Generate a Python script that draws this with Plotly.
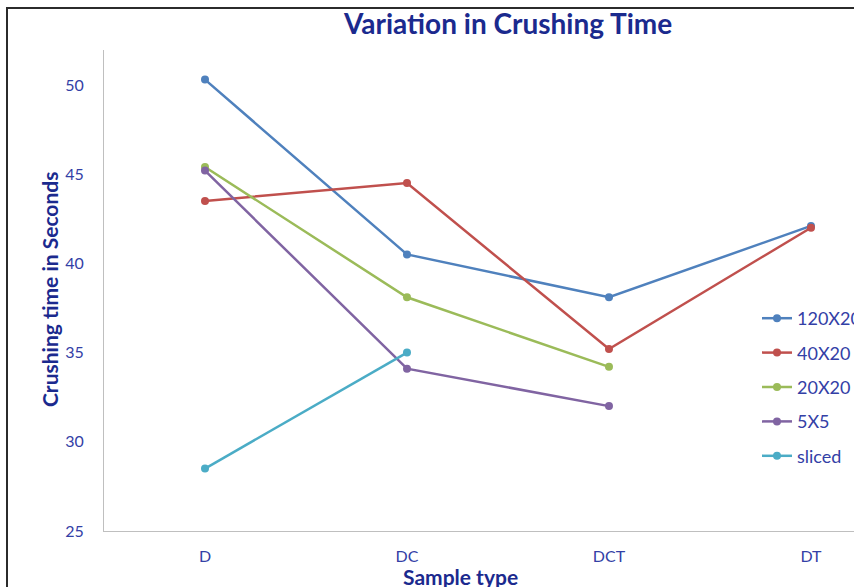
import plotly.graph_objects as go

categories = ["D", "DC", "DCT", "DT"]
s_120x20 = [50.3, 40.5, 38.1, 42.1]
s_40x20 = [43.5, 44.5, 35.2, 42.0]
s_20x20 = [45.4, 38.1, 34.2, None]
s_5x5 = [45.2, 34.1, 32.0, None]
s_sliced = [28.5, 35.0, None, None]

series = [
    ("120X20", s_120x20, "#4F81BD"),
    ("40X20", s_40x20, "#C0504D"),
    ("20X20", s_20x20, "#9BBB59"),
    ("5X5", s_5x5, "#8064A2"),
    ("sliced", s_sliced, "#4BACC6"),
]

W, H = 854, 587
L, R, T, B = 104, 0, 50, 56
pw, ph = W - L - R, H - T - B

def px(x):
    return (x - L) / pw

def py(y):
    return (H - B - y) / ph

fig = go.Figure()
for i, (name, vals, col) in enumerate(series):
    fig.add_trace(go.Scatter(
        x=categories, y=vals, name=name, mode="lines+markers",
        line=dict(color=col, width=2.5),
        marker=dict(color=col, size=8),
        legendgroup=f"g{i}",
    ))

tick_color = "#3340A6"
title_color = "#1B2A8E"
font_family = "Lato, 'Open Sans', sans-serif"

fig.update_layout(
    width=W, height=H,
    margin=dict(l=L, r=R, t=T, b=B, autoexpand=False),
    paper_bgcolor="white", plot_bgcolor="white",
    font=dict(family=font_family, color=tick_color, size=16),
    showlegend=True,
    legend=dict(
        x=px(757), y=py(300), xanchor="left", yanchor="top",
        font=dict(size=18, color=tick_color),
        traceorder="grouped", tracegroupgap=8,
        bgcolor="rgba(0,0,0,0)",
    ),
    xaxis=dict(
        type="category", range=[-0.5, 3.213],
        showgrid=False, showline=True, linecolor="#BFBFBF", linewidth=1,
        ticks="", ticklabelstandoff=11,
        tickfont=dict(size=16, color=tick_color),
        zeroline=False,
    ),
    yaxis=dict(
        range=[25, 51.96], tick0=25, dtick=5,
        showgrid=False, showline=True, linecolor="#BFBFBF", linewidth=1,
        ticks="", ticklabelstandoff=16,
        tickfont=dict(size=16, color=tick_color),
        zeroline=False,
    ),
    annotations=[
        dict(text="<b>Variation in Crushing Time</b>", xref="paper", yref="paper",
             x=px(507), y=py(23), xanchor="center", yanchor="middle", showarrow=False,
             font=dict(size=28, color=title_color, family=font_family)),
        dict(text="<b>Crushing time in Seconds</b>", xref="paper", yref="paper",
             x=px(49), y=py(290), xanchor="center", yanchor="middle", showarrow=False,
             textangle=-90,
             font=dict(size=21, color=title_color, family=font_family)),
        dict(text="<b>Sample type</b>", xref="paper", yref="paper",
             x=px(460), y=py(576), xanchor="center", yanchor="middle", showarrow=False,
             font=dict(size=21, color=title_color, family=font_family)),
    ],
    shapes=[
        dict(type="rect", xref="paper", yref="paper",
             x0=px(7), x1=px(900), y0=py(8), y1=py(640),
             line=dict(color="#2b2b2b", width=2), fillcolor="rgba(0,0,0,0)",
             layer="below"),
    ],
)

fig.write_html(
    "out.html",
    config={"displayModeBar": False},
    post_script="document.body.style.margin='0';document.body.style.overflow='hidden';",
)
